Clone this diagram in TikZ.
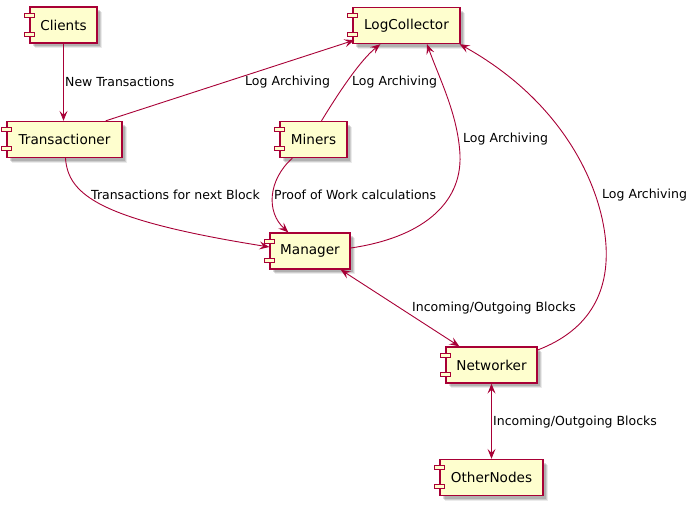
\documentclass[tikz,border=0pt]{standalone}
\usepackage{fontspec}
\setmainfont{DejaVu Sans}
\usetikzlibrary{arrows.meta,calc,shadows}
\definecolor{umlred}{HTML}{A80036}
\definecolor{umlfill}{HTML}{FEFECE}
\begin{document}
\begin{tikzpicture}[x=1pt,y=-1pt,
  comp/.style={draw=umlred, fill=umlfill, line width=1.3pt, inner sep=0pt,
    minimum height=36pt, font=\fontsize{13.6}{16}\selectfont,
    drop shadow={shadow xshift=5pt, shadow yshift=-5pt, fill=black, opacity=0.08},
    drop shadow={shadow xshift=4pt, shadow yshift=-4pt, fill=black, opacity=0.12},
    drop shadow={shadow xshift=3pt, shadow yshift=-3pt, fill=black, opacity=0.14}},
  compicon/.style={draw=umlred, fill=umlfill, line width=1.2pt},
  edge/.style={draw=umlred, line width=0.9pt},
  tip/.style={-{Stealth[length=10pt,width=8pt,inset=4pt]}},
  biptip/.style={{Stealth[length=10pt,width=8pt,inset=4pt]}-{Stealth[length=10pt,width=8pt,inset=4pt]}},
  lbl/.style={anchor=west, inner sep=0pt, font=\fontsize{12.5}{15}\selectfont}]
\useasboundingbox (0,0) rectangle (697,506);

% components
\node[comp, minimum width=67pt]  (cli)    at (63.5,25)    {Clients};
\node[comp, minimum width=115pt] (trans)  at (64.5,139.5) {Transactioner};
\node[comp, minimum width=107pt] (log)    at (406.5,25.5) {LogCollector};
\node[comp, minimum width=67pt]  (miners) at (313.5,139.5){Miners};
\node[comp, minimum width=80pt]  (man)    at (310,251)    {Manager};
\node[comp, minimum width=91pt]  (net)    at (491.5,365)  {Networker};
\node[comp, minimum width=103pt] (other)  at (491.5,477.5){OtherNodes};

\foreach \n in {cli,trans,log,miners,man,net,other}{
  \draw[compicon] ($(\n.north west)+(-5,7)$) rectangle ++(10,4);
  \draw[compicon] ($(\n.north west)+(-5,26)$) rectangle ++(10,4);
}

% connectors
\draw[edge,tip] (cli.south) -- (cli.south |- trans.north);
\draw[edge,tip] ($(trans.north east)+(-17,0)$) -- ($(log.south west)+(2,-4)$);
\draw[edge,tip] ($(miners.north)+(8,0)$) .. controls (333,102) and (358,62) .. ($(log.south west)+(28,0)$);
\draw[edge,tip] ($(trans.south)+(1,0)$) .. controls (68,195) and (100,220) .. ($(man.west)+(0,-4)$);
\draw[edge,tip] ($(miners.south west)+(13,0)$) .. controls (268,180) and (266,212) .. ($(man.north west)+(19,0)$);
\draw[edge,tip] ($(man.east)+(0,-3)$) .. controls (420,238) and (462,205) .. (460,155)
   .. controls (458,115) and (440,80) .. ($(log.south)+(20.5,0)$);
\draw[edge,biptip] ($(man.south east)+(-10,0)$) -- ($(net.north west)+(14,0)$);
\draw[edge,tip] ($(net.east)+(0,-15)$) .. controls (590,330) and (612,290) .. (605,235)
   .. controls (598,180) and (560,100) .. ($(log.south east)+(-1,0)$);
\draw[edge,biptip] (net.south) -- (net.south |- other.north);

% labels
\node[lbl] (l1) at (65,82)  {New Transactions};
\node[lbl] (l2) at (245,82) {Log Archiving};
\node[lbl] (l3) at (352,82) {Log Archiving};
\node[lbl] (l4) at (91,195) {Transactions for next Block};
\node[lbl] (l5) at (274,195){Proof of Work calculations};
\node[lbl] (l6) at (463,139){Log Archiving};
\node[lbl] (l7) at (602,195){Log Archiving};
\node[lbl] (l8) at (412,308){Incoming/Outgoing Blocks};
\node[lbl] (l9) at (493,422){Incoming/Outgoing Blocks};
\end{tikzpicture}
\end{document}
